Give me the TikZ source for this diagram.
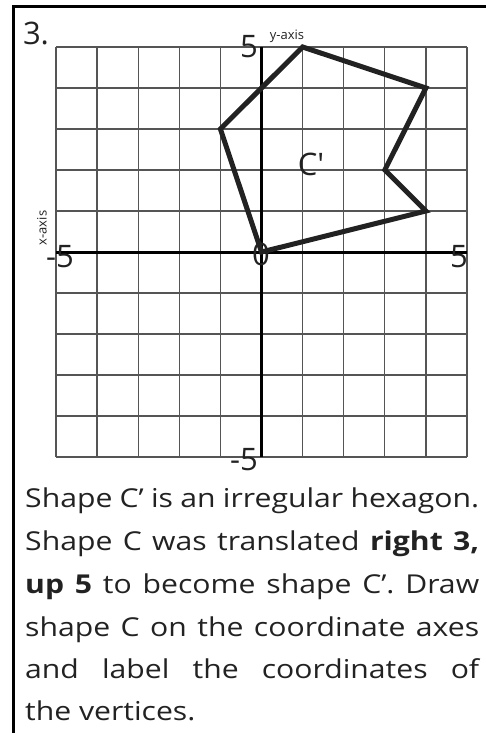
\documentclass[tikz,border=0pt]{standalone}
\usepackage{fontspec}
\setmainfont{Open Sans}
\newfontfamily\bodyfont[FakeStretch=1.16]{Open Sans}
\definecolor{ink}{HTML}{222222}
\definecolor{gridc}{HTML}{555555}
\tikzset{
  frameline/.style={line width=3pt, black},
  gridline/.style={line width=1.3pt, gridc},
  axisline/.style={line width=3pt, black},
  shapeline/.style={line width=5pt, ink, line join=miter},
  biglabel/.style={font=\fontsize{31}{31}\selectfont, text=ink, inner sep=0pt},
  smalllabel/.style={font=\fontsize{13}{13}\selectfont, text=ink, inner sep=0pt},
  bodyline/.style={font=\bodyfont\fontsize{26}{26}\selectfont, text=ink, inner sep=0pt, anchor=base west}
}
\begin{document}
\begin{tikzpicture}[x=1pt,y=-1pt]
\useasboundingbox (0,0) rectangle (485,733);
% frame
\coordinate (ftl) at (13.5,6.5);
\coordinate (ftr) at (486,6.5);
\coordinate (fbl) at (13.5,734);
\draw[frameline] (ftr) -- (12,6.5);
\draw[frameline] (ftl) -- (fbl);
% question number
\node[biglabel] (qnum) at (36,33) {3.};
% grid
\begin{scope}[shift={(261.5,252)}, x=41.1pt, y=41pt]
  \foreach \i in {-5,...,5} {
    \draw[gridline] (\i,-5) -- (\i,5);
    \draw[gridline] (-5,\i) -- (5,\i);
  }
  \coordinate (xl) at (-5,0);
  \coordinate (xr) at (5,0);
  \coordinate (yb) at (0,-5);
  \coordinate (yt) at (0,5);
  \draw[axisline] (xl) -- (xr);
  \draw[axisline] (yb) -- (yt);
  % shape C'
  \coordinate (p1) at (1,5);
  \coordinate (p2) at (4,4);
  \coordinate (p3) at (3,2);
  \coordinate (p4) at (4,1);
  \coordinate (p5) at (0,0);
  \coordinate (p6) at (-1,3);
  \draw[shapeline] (p1) -- (p2) -- (p3) -- (p4) -- (p5) -- (p6) -- cycle;
\end{scope}
% axis labels
\node[biglabel] (ytop) at (249,47) {5};
\node[smalllabel] (ylab) at (287,36) {y-axis};
\node[biglabel] (xleft) at (60,257) {-5};
\node[biglabel] (xright) at (459,257) {5};
\node[biglabel] (orig) at (261,254) {0};
\node[biglabel] (ybot) at (244,460) {-5};
\node[biglabel] (clab) at (311,164) {C\textquotesingle};
\node[smalllabel, rotate=90] (xlab) at (42,228) {x-axis};
% text
\node[bodyline] (t1) at (25,507) {\makebox[454pt][s]{Shape C’ is an irregular hexagon.}};
\node[bodyline] (t2) at (25,550) {\makebox[454pt][s]{Shape C was translated \textbf{right 3,}}};
\node[bodyline] (t3) at (25,593) {\makebox[454pt][s]{\textbf{up 5} to become shape C’. Draw}};
\node[bodyline] (t4) at (25,636) {\makebox[454pt][s]{shape C on the coordinate axes}};
\node[bodyline] (t5) at (25,678) {\makebox[454pt][s]{and label the coordinates of}};
\node[bodyline] (t6) at (25,720) {the vertices.};
\end{tikzpicture}
\end{document}
